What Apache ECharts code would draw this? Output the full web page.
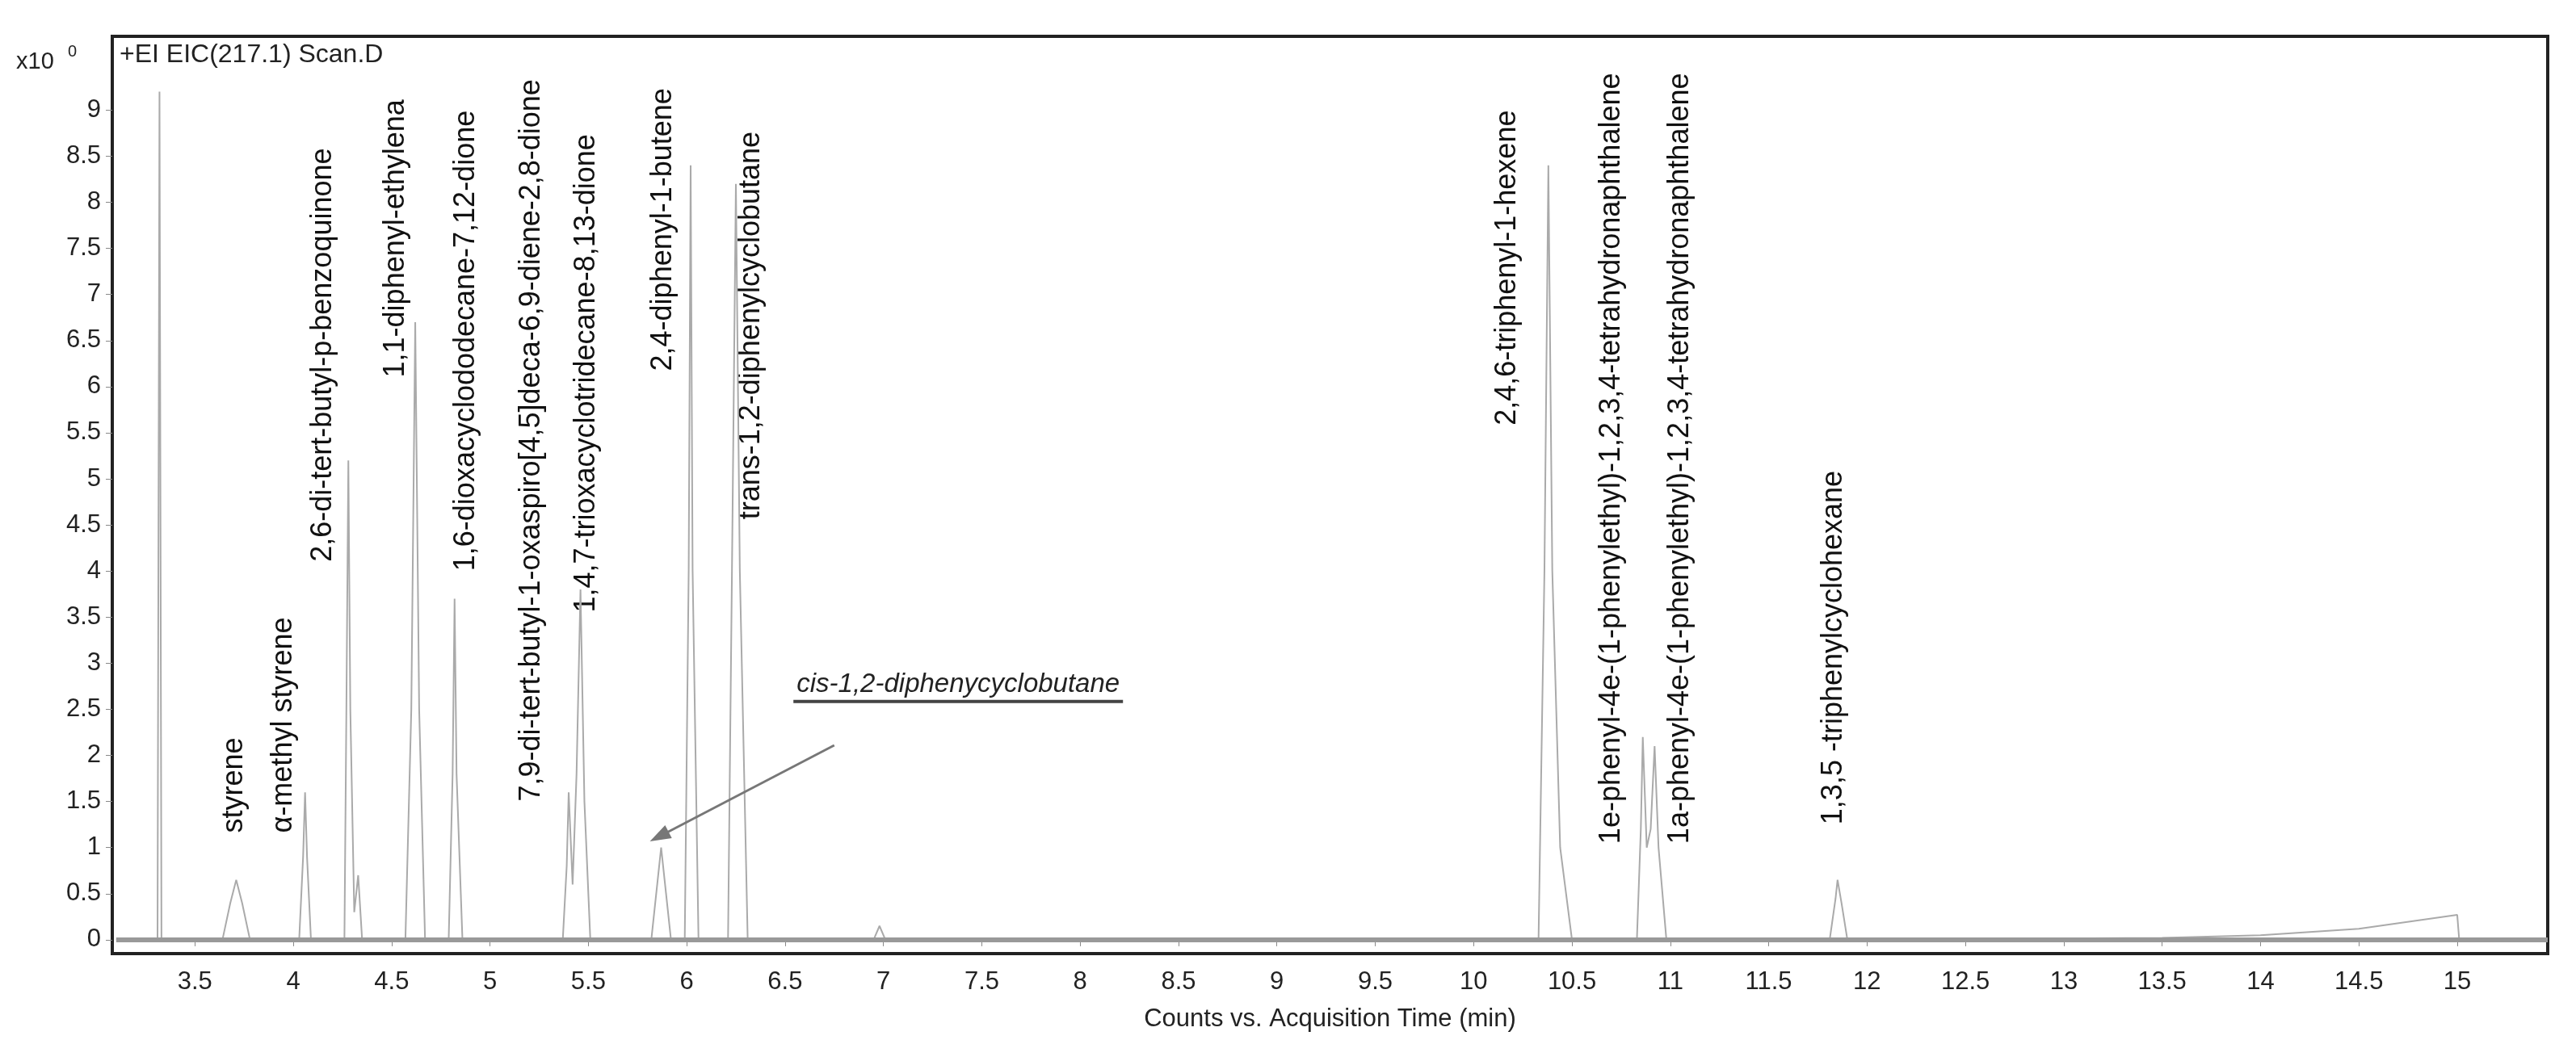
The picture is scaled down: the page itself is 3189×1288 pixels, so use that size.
<!DOCTYPE html>
<html><head><meta charset="utf-8">
<script src="https://cdn.jsdelivr.net/npm/echarts@6/dist/echarts.min.js"></script>
<style>html,body{margin:0;background:#fff}#main{width:3189px;height:1288px}</style>
</head><body><div id="main"></div>
<script>
// chromatogram trace, [time(min), counts x10^0]
var trace = [
  [3.1,0],[3.31,0],[3.32,9.2],[3.33,0],
  [3.64,0],[3.68,0.4],[3.71,0.65],[3.74,0.4],[3.78,0],
  [4.03,0],[4.05,0.9],[4.06,1.6],[4.07,0.9],[4.09,0],
  [4.26,0],[4.27,2.5],[4.28,5.2],[4.29,2.5],[4.31,0.3],[4.33,0.7],[4.35,0],
  [4.57,0],[4.6,2.5],[4.62,6.7],[4.64,2.5],[4.67,0],
  [4.79,0],[4.81,1.8],[4.82,3.7],[4.83,1.8],[4.86,0],
  [5.37,0],[5.39,0.8],[5.40,1.6],[5.42,0.6],[5.44,1.8],[5.46,3.8],[5.48,1.5],[5.51,0],
  [5.82,0],[5.85,0.6],[5.87,1.0],[5.89,0.6],[5.92,0],
  [5.99,0],[6.01,4],[6.02,8.4],[6.03,4],[6.06,0],
  [6.21,0],[6.23,4],[6.25,8.2],[6.27,4],[6.31,0],
  [6.95,0],[6.98,0.15],[7.01,0],
  [10.33,0],[10.36,4],[10.38,8.4],[10.40,4],[10.44,1],[10.5,0],
  [10.83,0],[10.85,1.2],[10.86,2.2],[10.88,1.0],[10.9,1.2],[10.92,2.1],[10.94,1.0],[10.98,0],
  [11.81,0],[11.84,0.45],[11.85,0.65],[11.87,0.4],[11.9,0],
  [13.5,0.02],[14,0.05],[14.5,0.12],[15,0.27],[15.01,0],[15.46,0]
];
var xTicks = [3.5,4,4.5,5,5.5,6,6.5,7,7.5,8,8.5,9,9.5,10,10.5,11,11.5,12,12.5,13,13.5,14,14.5,15];
var yTicks = [0,0.5,1,1.5,2,2.5,3,3.5,4,4.5,5,5.5,6,6.5,7,7.5,8,8.5,9];
// compound labels: [time, counts at the label's lower end, text]
var peakNames = [
  [3.70,1.16,'styrene'],
  [3.95,1.16,'α-methyl styrene'],
  [4.15,4.1,'2,6-di-tert-butyl-p-benzoquinone'],
  [4.52,6.1,'1,1-diphenyl-ethylena'],
  [4.88,4.0,'1,6-dioxacyclododecane-7,12-dione'],
  [5.21,1.5,'7,9-di-tert-butyl-1-oxaspiro[4,5]deca-6,9-diene-2,8-dione'],
  [5.49,3.55,'1,4,7-trioxacyclotridecane-8,13-dione'],
  [5.88,6.17,'2,4-diphenyl-1-butene'],
  [6.33,4.56,'trans-1,2-diphenylcyclobutane'],
  [10.17,5.58,'2,4,6-triphenyl-1-hexene'],
  [10.70,1.04,'1e-phenyl-4e-(1-phenylethyl)-1,2,3,4-tetrahydronaphthalene'],
  [11.05,1.04,'1a-phenyl-4e-(1-phenylethyl)-1,2,3,4-tetrahydronaphthalene'],
  [11.83,1.25,'1,3,5 -triphenylcyclohexane']
];
var cisLabel = [7.38,2.62,'cis-1,2-diphenycyclobutane'];
var cisArrow = [[6.75,2.11],[5.86,1.12]];

var chart = echarts.init(document.getElementById('main'));
var font = 'Liberation Sans, Arial, sans-serif';
chart.setOption({
  animation:false,
  grid:{left:139,right:35,top:45,bottom:107,show:true,borderColor:'#222',borderWidth:4,backgroundColor:'#fff'},
  xAxis:{type:'value',min:3.08,max:15.46,
    name:'Counts vs. Acquisition Time (min)',nameLocation:'middle',nameGap:66,
    nameTextStyle:{fontSize:31,color:'#222',fontFamily:font},
    axisLine:{show:false},splitLine:{show:false},
    axisTick:{show:true,length:8,customValues:xTicks,lineStyle:{color:'#888'}},
    axisLabel:{customValues:xTicks,fontSize:31,color:'#222',margin:20,fontFamily:font}},
  yAxis:{type:'value',min:-0.15,max:9.8,
    axisLine:{show:false},splitLine:{show:false},
    axisTick:{show:true,length:8,customValues:yTicks,lineStyle:{color:'#888'}},
    axisLabel:{customValues:yTicks,fontSize:31,color:'#222',margin:14,fontFamily:font}},
  series:[{
    type:'line',data:trace,symbol:'none',
    lineStyle:{color:'#aaa',width:2},
    markLine:{silent:true,symbol:['none','none'],label:{show:false},
      lineStyle:{color:'#999',width:6,type:'solid'},
      data:[[{coord:[3.1,0]},{coord:[15.46,0]}]]}
  },{
    type:'line',data:[],
    markLine:{silent:true,symbol:['none','triangle'],symbolSize:[18,26],label:{show:false},
      lineStyle:{color:'#777',width:3,type:'solid'},itemStyle:{color:'#111'},
      data:[[{coord:cisArrow[0]},{coord:cisArrow[1],itemStyle:{color:'#111'}}]]}
  }]
});

var g = [];
peakNames.forEach(function(p){
  var pt = chart.convertToPixel({gridIndex:0},[p[0],p[1]]);
  g.push({type:'text',x:pt[0],y:pt[1],rotation:Math.PI/2,
    style:{text:p[2],fontSize:36,fill:'#111',fontFamily:font,align:'left',verticalAlign:'middle'}});
});
var cp = chart.convertToPixel({gridIndex:0},[cisLabel[0],cisLabel[1]]);
g.push({type:'text',x:cp[0],y:cp[1],
  style:{text:cisLabel[2],fontSize:33,fontStyle:'italic',fill:'#222',fontFamily:font,align:'center',verticalAlign:'bottom'}});
g.push({type:'rect',shape:{x:cp[0]-204,y:cp[1]+2,width:408,height:4},style:{fill:'#444'}});
g.push({type:'text',left:148,top:52,style:{text:'+EI EIC(217.1) Scan.D',fontSize:32,fill:'#222',fontFamily:font}});
g.push({type:'text',left:20,top:62,style:{text:'x10',fontSize:29,fill:'#222',fontFamily:font}});
g.push({type:'text',left:84,top:54,style:{text:'0',fontSize:20,fill:'#222',fontFamily:font}});
chart.setOption({graphic:g});
</script></body></html>
